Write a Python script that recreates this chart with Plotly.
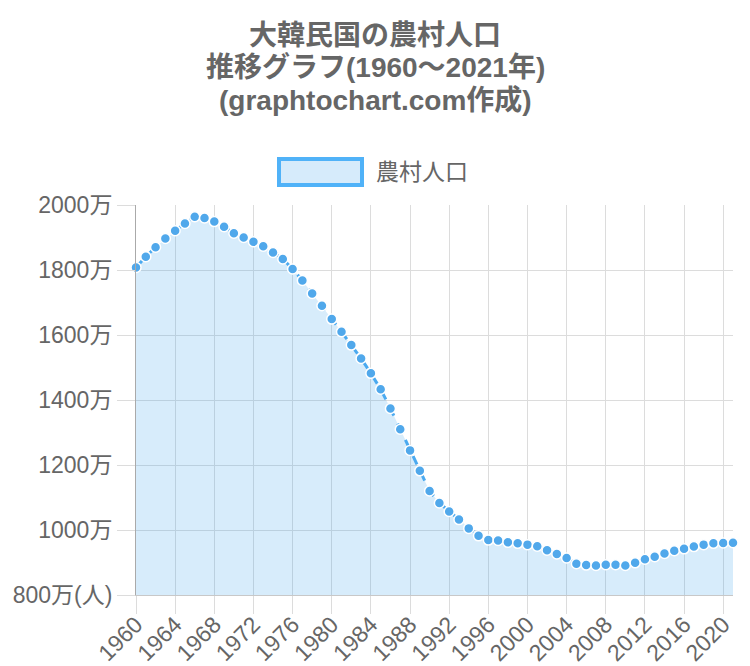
import plotly.graph_objects as go

years = list(range(1960, 2022))
rural_pop = [1808, 1841, 1870, 1897, 1921, 1943, 1964, 1960, 1949, 1933,
             1913, 1900, 1887, 1873, 1854, 1834, 1803, 1768, 1728, 1690,
             1649, 1610, 1569, 1528, 1482, 1433, 1374, 1310, 1245, 1182,
             1120, 1083, 1057, 1032, 1005, 982, 969, 968, 962, 959,
             955, 950, 938, 926, 914, 896, 892, 891, 893, 893,
             891, 899, 910, 918, 928, 936, 942, 949, 955, 959,
             960, 961]

series_name = "農村人口"
title_lines = ["大韓民国の農村人口", "推移グラフ(1960〜2021年)", "(graphtochart.com作成)"]
x_tickvals = list(range(1960, 2021, 4))
y_tickvals = [800, 1000, 1200, 1400, 1600, 1800, 2000]
y_ticktext = ["800万(人)", "1000万", "1200万", "1400万", "1600万", "1800万", "2000万"]

FONT = "Liberation Sans, Arial, Noto Sans CJK JP, sans-serif"
TXT = "#666666"
GRID = "#dcdcdc"

fig = go.Figure()
fig.add_trace(go.Scatter(
    x=years, y=rural_pop, name=series_name,
    mode="lines+markers",
    fill="tozeroy",
    fillcolor="rgba(54,162,235,0.2)",
    line=dict(color="rgb(75,170,240)", width=3, dash="dash"),
    marker=dict(size=10, color="rgb(80,168,235)", line=dict(color="white", width=1.5)),
    cliponaxis=False,
    showlegend=False,
))

L, R, T, B = 136, 17, 205, 71
W, H = 750, 666
pw, ph = W - L - R, H - T - B

def px2x(px):
    return (px - L) / pw

def py2y(py):
    return (H - B - py) / ph

fig.add_shape(type="rect", xref="paper", yref="paper",
              x0=px2x(279), x1=px2x(362), y0=py2y(185), y1=py2y(159),
              line=dict(color="rgb(80,178,248)", width=4),
              fillcolor="rgb(214,235,251)")
fig.add_annotation(xref="paper", yref="paper", x=px2x(374), y=py2y(172),
                   xanchor="left", yanchor="middle", showarrow=False,
                   text=series_name, font=dict(family=FONT, size=23, color=TXT))
for i, line in enumerate(title_lines):
    fig.add_annotation(xref="paper", yref="paper", x=px2x(375), y=py2y(35 + 32.5 * i),
                       xanchor="center", yanchor="middle", showarrow=False,
                       text="<b>" + line + "</b>",
                       font=dict(family=FONT, size=28, color=TXT))

fig.update_layout(
    width=W, height=H,
    margin=dict(l=L, r=R, t=T, b=B, autoexpand=False),
    paper_bgcolor="white", plot_bgcolor="white",
    font=dict(family=FONT, color=TXT),
)
fig.update_xaxes(
    range=[1960, 2021], tickvals=x_tickvals, tickangle=-45,
    tickfont=dict(size=23, color=TXT), automargin=False,
    ticklabelstandoff=-12,
    showgrid=True, gridcolor=GRID, gridwidth=1,
    ticks="outside", ticklen=18, tickcolor=GRID,
    showline=True, linecolor="#c8c8c8", linewidth=1,
    zeroline=False,
)
fig.update_yaxes(
    range=[800, 2000], tickvals=y_tickvals, ticktext=y_ticktext,
    tickfont=dict(size=23, color=TXT), automargin=False,
    showgrid=True, gridcolor=GRID, gridwidth=1,
    ticks="outside", ticklen=18, tickcolor=GRID,
    showline=True, linecolor="#aaaaaa", linewidth=1,
    zeroline=False,
)

fig.write_html("out.html")
